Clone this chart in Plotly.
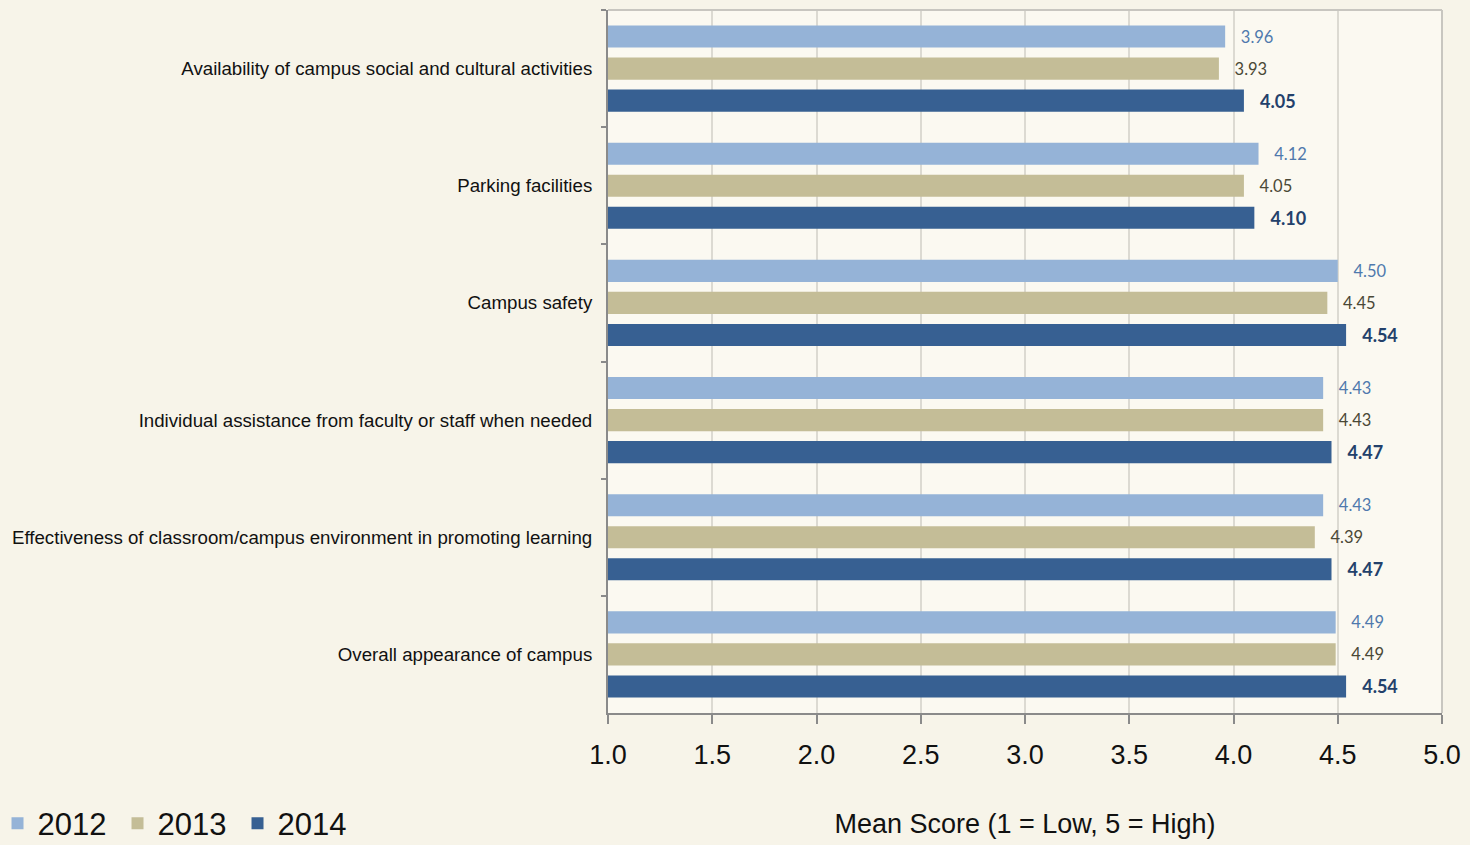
import plotly.graph_objects as go

categories = [
    "Availability of campus social and cultural activities",
    "Parking facilities",
    "Campus safety",
    "Individual assistance from faculty or staff when needed",
    "Effectiveness of classroom/campus environment in promoting learning",
    "Overall appearance of campus",
]
years = ["2012", "2013", "2014"]
v2012 = [3.96, 4.12, 4.50, 4.43, 4.43, 4.49]
v2013 = [3.93, 4.05, 4.45, 4.43, 4.39, 4.49]
v2014 = [4.05, 4.10, 4.54, 4.47, 4.47, 4.54]
x_ticks = [1.0, 1.5, 2.0, 2.5, 3.0, 3.5, 4.0, 4.5, 5.0]

series = [v2012, v2013, v2014]
bar_colors = ["#95b3d7", "#c4bd97", "#376092"]
text_colors = ["#4f79ad", "#4a4836", "#23416b"]
text_weights = ["normal", "normal", "bold"]
text_sizes = [16.5, 16.5, 18]

fig = go.Figure()
for name, vals, bc, tc, tw, ts in zip(years, series, bar_colors, text_colors, text_weights, text_sizes):
    fig.add_trace(go.Bar(
        y=categories, x=vals, name=name, orientation="h",
        marker=dict(color=bc, line=dict(width=0)),
        text=[f"{v:.2f}" for v in vals],
        texttemplate="\u00a0\u00a0\u00a0%{text}",
        textposition="outside",
        constraintext="none",
        textfont=dict(family="Lato, Carlito, Open Sans, sans-serif", size=ts, color=tc, weight=tw),
        cliponaxis=False,
    ))

fig.update_layout(
    width=1470, height=845,
    margin=dict(l=608, r=28, t=10, b=132, autoexpand=False),
    barmode="group", bargap=0.18, bargroupgap=0.31,
    paper_bgcolor="#f7f4e9",
    plot_bgcolor="#fbf9f1",
    font=dict(family="Arial, Liberation Sans, sans-serif", color="#111111"),
    showlegend=True,
    legend=dict(
        orientation="h", x=-0.732, y=-0.119, xanchor="left", yanchor="top",
        font=dict(size=31, family="Arial, Liberation Sans, sans-serif", color="#111111"),
        itemwidth=30, tracegroupgap=0, bgcolor="rgba(0,0,0,0)",
        entrywidth=75, entrywidthmode="pixels",
    ),
    xaxis=dict(
        range=[1.0, 5.0], tickvals=x_ticks, ticktext=[f"{t:.1f}" for t in x_ticks],
        showgrid=True, gridcolor="#dcdad2", gridwidth=1.5,
        showline=True, linecolor="#8a8a8a", linewidth=2,
        ticks="outside", ticklen=9, tickcolor="#8a8a8a", tickwidth=2,
        ticklabelstandoff=8,
        tickfont=dict(size=27, family="Liberation Sans Narrow, Arial Narrow, Arial, sans-serif", color="#111111"),
        title=dict(text="Mean Score (1 = Low, 5 = High)",
                   font=dict(size=27, family="Liberation Sans Narrow, Arial Narrow, Arial, sans-serif", color="#111111"),
                   standoff=45),
        zeroline=False, automargin=False,
    ),
    yaxis=dict(
        autorange="reversed", showline=True, linecolor="#8a8a8a", linewidth=2,
        ticks="outside", tickson="boundaries", ticklen=5, tickcolor="#8a8a8a", tickwidth=2,
        showgrid=False, automargin=False,
        tickfont=dict(size=18.7, family="Arial, Liberation Sans, sans-serif", color="#111111"),
        ticklabelstandoff=10,
    ),
    shapes=[
        dict(type="line", xref="paper", yref="paper", x0=0, x1=1, y0=1, y1=1,
             line=dict(color="#c8c6c0", width=2)),
        dict(type="line", xref="paper", yref="paper", x0=1, x1=1, y0=0, y1=1,
             line=dict(color="#c8c6c0", width=2)),
    ],
)

fig.write_html("out.html", config={"displayModeBar": False},
               post_script="document.body.style.margin='0';document.body.style.overflow='hidden';")
